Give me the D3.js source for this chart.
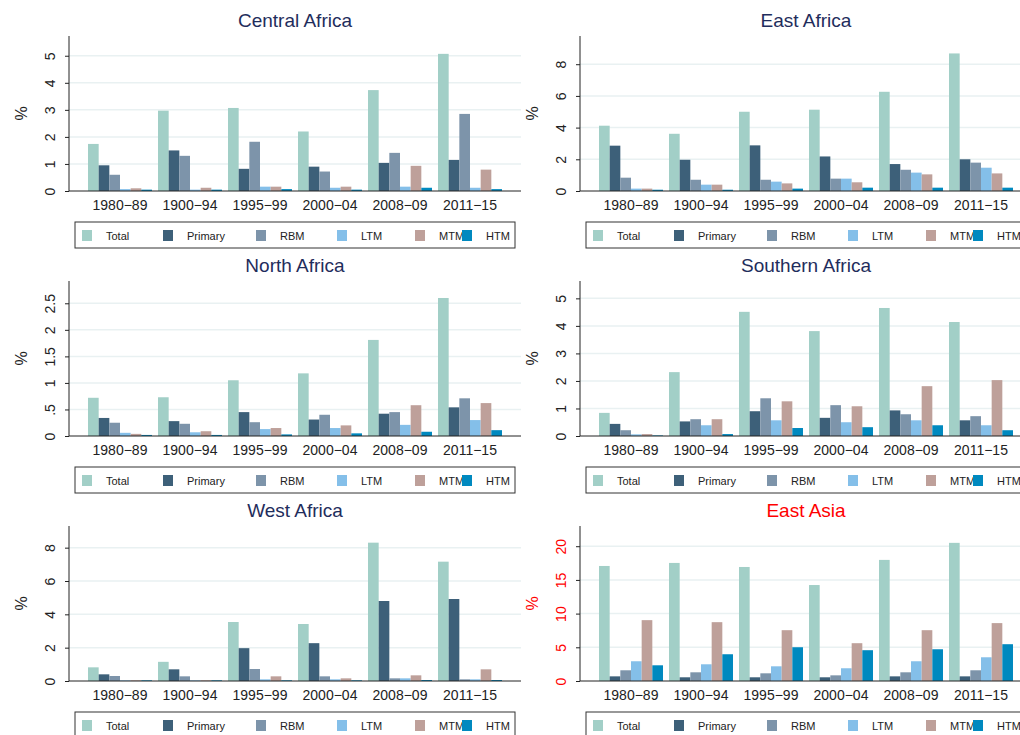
<!DOCTYPE html>
<html>
<head>
<meta charset="utf-8">
<script src="https://cdn.jsdelivr.net/npm/d3@7"></script>
<style>
  body { margin: 0; background: #fff; }
  svg { display: block; font-family: "Liberation Sans", Arial, sans-serif; }
</style>
</head>
<body>
<svg id="chart" width="1020" height="735"></svg>
<script>
// periods on the x axis and bar series
var periods = ["1980\u221289", "1900\u221294", "1995\u221299", "2000\u221204", "2008\u221209", "2011\u221215"];
var series = ["Total", "Primary", "RBM", "LTM", "MTM", "HTM"];
var colors = ["#a2cfc7", "#3d6079", "#7d94aa", "#84bfe9", "#bea09a", "#0089bf"];

// one row per period: Total, Primary, RBM, LTM, MTM, HTM (%)
var centralAfrica = [
  [1.74, 0.95, 0.60, 0.07, 0.10, 0.05],
  [2.97, 1.50, 1.30, 0.05, 0.12, 0.05],
  [3.07, 0.82, 1.82, 0.16, 0.16, 0.07],
  [2.20, 0.90, 0.72, 0.12, 0.16, 0.05],
  [3.73, 1.04, 1.41, 0.16, 0.93, 0.12],
  [5.07, 1.15, 2.85, 0.12, 0.79, 0.07]
];
var eastAfrica = [
  [4.12, 2.86, 0.84, 0.15, 0.15, 0.08],
  [3.61, 1.97, 0.71, 0.40, 0.40, 0.08],
  [5.00, 2.88, 0.71, 0.59, 0.48, 0.15],
  [5.13, 2.18, 0.78, 0.78, 0.55, 0.21],
  [6.26, 1.70, 1.34, 1.16, 1.05, 0.21],
  [8.68, 2.00, 1.79, 1.47, 1.11, 0.21]
];
var northAfrica = [
  [0.72, 0.34, 0.25, 0.06, 0.04, 0.02],
  [0.73, 0.28, 0.23, 0.07, 0.09, 0.02],
  [1.05, 0.45, 0.26, 0.13, 0.15, 0.03],
  [1.18, 0.31, 0.40, 0.15, 0.20, 0.05],
  [1.81, 0.42, 0.45, 0.21, 0.58, 0.08],
  [2.60, 0.54, 0.71, 0.30, 0.62, 0.11]
];
var southernAfrica = [
  [0.84, 0.44, 0.21, 0.06, 0.07, 0.02],
  [2.32, 0.53, 0.61, 0.39, 0.61, 0.07],
  [4.51, 0.90, 1.37, 0.57, 1.26, 0.29],
  [3.81, 0.66, 1.12, 0.50, 1.08, 0.32],
  [4.65, 0.93, 0.79, 0.57, 1.81, 0.39],
  [4.14, 0.57, 0.72, 0.39, 2.03, 0.21]
];
var westAfrica = [
  [0.82, 0.40, 0.30, 0.04, 0.04, 0.04],
  [1.15, 0.70, 0.28, 0.04, 0.04, 0.04],
  [3.54, 1.97, 0.72, 0.10, 0.28, 0.04],
  [3.42, 2.27, 0.28, 0.10, 0.16, 0.04],
  [8.30, 4.80, 0.16, 0.16, 0.34, 0.06],
  [7.16, 4.92, 0.10, 0.10, 0.70, 0.06]
];
var eastAsia = [
  [17.07, 0.69, 1.59, 2.93, 9.03, 2.33],
  [17.52, 0.55, 1.29, 2.48, 8.73, 3.97],
  [16.92, 0.55, 1.14, 2.18, 7.54, 5.01],
  [14.24, 0.55, 0.84, 1.89, 5.61, 4.57],
  [17.97, 0.69, 1.29, 2.93, 7.54, 4.71],
  [20.50, 0.69, 1.59, 3.52, 8.59, 5.46]
];

var centralTicks = [0, 1, 2, 3, 4, 5];
var eastTicks = [0, 2, 4, 6, 8];
var northTicks = [0, 0.5, 1, 1.5, 2, 2.5];
var southernTicks = [0, 1, 2, 3, 4, 5];
var westTicks = [0, 2, 4, 6, 8];
var asiaTicks = [0, 5, 10, 15, 20];

var panels = [
  {title: "Central Africa", data: centralAfrica, ticks: centralTicks, max: 5.73, col: 0, row: 0},
  {title: "East Africa", data: eastAfrica, ticks: eastTicks, max: 9.78, col: 1, row: 0},
  {title: "North Africa", data: northAfrica, ticks: northTicks, max: 2.92, col: 0, row: 1},
  {title: "Southern Africa", data: southernAfrica, ticks: southernTicks, max: 5.63, col: 1, row: 1},
  {title: "West Africa", data: westAfrica, ticks: westTicks, max: 9.30, col: 0, row: 2},
  {title: "East Asia", data: eastAsia, ticks: asiaTicks, max: 23.0, col: 1, row: 2, red: true}
];

// legend item offsets (Stata packs HTM on top of MTM)
var legendX = [82, 163, 256, 337, 415, 462];

var svg = d3.select("#chart");

var plotTop = 36, plotBottom = 191, plotLeft = 69, plotRight = 521;

var x0 = d3.scaleBand().domain(periods).range([85, 505]).paddingInner(0.086).paddingOuter(0.043);
var x1 = d3.scaleBand().domain(series).range([0, x0.bandwidth()]);
var color = d3.scaleOrdinal().domain(series).range(colors);

function fmt(d) {
  var s = String(d);
  return (d > 0 && d < 1) ? s.replace(/^0/, "") : s;
}

panels.forEach(function (p) {
  var g = svg.append("g")
    .attr("transform", "translate(" + (p.col * 511) + "," + (p.row * 245) + ")");
  var txtColor = p.red ? "#ff0000" : "#222";

  var y = d3.scaleLinear().domain([0, p.max]).range([plotBottom, plotTop]);

  // grid
  g.selectAll(".grid")
    .data(p.ticks.filter(function (t) { return t > 0; }))
    .enter().append("line")
    .attr("x1", plotLeft).attr("x2", plotRight)
    .attr("y1", function (d) { return y(d); })
    .attr("y2", function (d) { return y(d); })
    .attr("stroke", "#e9f1f2")
    .attr("stroke-width", 1.5);

  // bars
  var groups = g.selectAll(".grp")
    .data(p.data)
    .enter().append("g")
    .attr("transform", function (d, i) { return "translate(" + x0(periods[i]) + ",0)"; });

  groups.selectAll("rect")
    .data(function (d) { return d.map(function (v, j) { return {key: series[j], value: v}; }); })
    .enter().append("rect")
    .attr("x", function (d) { return x1(d.key); })
    .attr("width", x1.bandwidth())
    .attr("y", function (d) { return y(d.value); })
    .attr("height", function (d) { return y(0) - y(d.value); })
    .attr("fill", function (d) { return color(d.key); });

  // y axis
  var yAxis = d3.axisLeft(y).tickValues(p.ticks).tickSize(4).tickFormat(fmt);
  var ya = g.append("g").attr("transform", "translate(" + plotLeft + ",0)").call(yAxis);
  ya.select(".domain").attr("d", "M0," + plotTop + "V" + plotBottom).attr("stroke", "#222");
  ya.selectAll(".tick line").attr("stroke", "#222");
  ya.selectAll(".tick text")
    .attr("x", null).attr("dy", null)
    .attr("transform", "translate(-14,0) rotate(-90)")
    .attr("text-anchor", "middle")
    .attr("font-size", 14)
    .attr("font-family", "Liberation Sans, Arial, sans-serif")
    .attr("fill", txtColor);

  // x axis
  var xAxis = d3.axisBottom(x0).tickSize(0).tickPadding(0);
  var xa = g.append("g").attr("transform", "translate(0," + plotBottom + ")").call(xAxis);
  xa.select(".domain").attr("d", "M" + plotLeft + ",0H" + plotRight).attr("stroke", "#222");
  xa.selectAll(".tick text")
    .attr("dy", null).attr("y", 19)
    .attr("font-size", 14)
    .attr("font-family", "Liberation Sans, Arial, sans-serif")
    .attr("fill", "#222");

  // % label
  g.append("text")
    .attr("transform", "translate(27," + ((plotTop + plotBottom) / 2) + ") rotate(-90)")
    .attr("text-anchor", "middle")
    .attr("font-size", 16)
    .attr("fill", txtColor)
    .text("%");

  // title
  g.append("text")
    .attr("x", 295).attr("y", 27)
    .attr("text-anchor", "middle")
    .attr("font-size", 19)
    .attr("fill", p.red ? "#ff0000" : "#1f2d5c")
    .text(p.title);

  // legend
  var lg = g.append("g").attr("transform", "translate(0,222)");
  lg.append("rect")
    .attr("x", 75).attr("y", 0).attr("width", 440).attr("height", 26)
    .attr("fill", "#fff").attr("stroke", "#333").attr("stroke-width", 1);
  var items = lg.selectAll(".item")
    .data(series)
    .enter().append("g")
    .attr("transform", function (d, i) { return "translate(" + legendX[i] + ",0)"; });
  items.append("rect")
    .attr("x", 0).attr("y", 8).attr("width", 10).attr("height", 11)
    .attr("fill", function (d) { return color(d); });
  items.append("text")
    .attr("x", 24).attr("y", 18)
    .attr("font-size", 11)
    .attr("fill", "#222")
    .text(function (d) { return d; });
});
</script>
</body>
</html>
